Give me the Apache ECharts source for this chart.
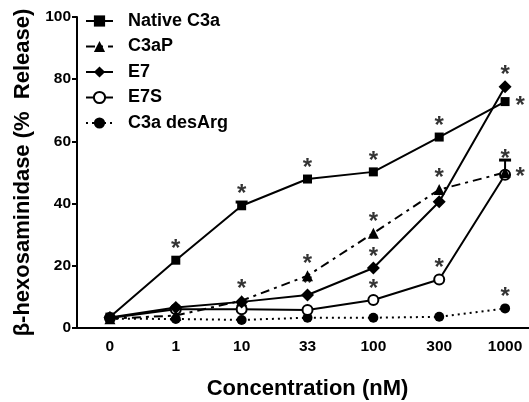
<!DOCTYPE html>
<html><head><meta charset="utf-8">
<script src="https://cdn.jsdelivr.net/npm/echarts@6/dist/echarts.min.js"></script>
<style>html,body{margin:0;padding:0;background:#fff}#c{width:529px;height:402px}</style>
</head><body><div id="c"></div>
<script>
var categories = ['0','1','10','33','100','300','1000'];
var nativeC3a = [3.5, 21.8, 39.3, 47.9, 50.2, 61.4, 72.8];
var c3aP      = [3.0, 4.0, 8.8, 16.8, 30.5, 44.5, 50.0];
var e7        = [3.4, 6.6, 8.4, 10.6, 19.3, 40.6, 77.6];
var e7s       = [3.2, 6.0, 6.0, 5.8, 9.0, 15.6, 49.3];
var desArg    = [3.0, 2.9, 2.6, 3.3, 3.3, 3.6, 6.3];
var e7sErr    = [0, 0, 0, 0, 0, 0, 4.7];
var nativeErr = [0, 0, 1.2, 0, 0, 0, 0];
var yTicks = [0, 20, 40, 60, 80, 100];
// significance marks: [series, category index, side]
var stars = [
  ['Native C3a',1,'top'],['Native C3a',2,'top'],['Native C3a',3,'top'],['Native C3a',4,'top'],['Native C3a',5,'top'],['Native C3a',6,'right'],
  ['C3aP',2,'top'],['C3aP',3,'top'],['C3aP',4,'top'],['C3aP',5,'top'],['C3aP',6,'right'],
  ['E7',3,'top'],['E7',4,'top'],['E7',6,'top'],
  ['E7S',4,'top'],['E7S',5,'top'],['E7S',6,'errtop'],
  ['C3a desArg',6,'top']
];
var seriesVals = {'Native C3a':nativeC3a,'C3aP':c3aP,'E7':e7,'E7S':e7s,'C3a desArg':desArg};

var chart = echarts.init(document.getElementById('c'));
var font = 'Liberation Sans, Arial, sans-serif';
function lineS(name, data, symbol, size, type, extra){
  var s = {name:name, type:'line', data:data, symbol:symbol, symbolSize:size,
    showAllSymbol:true,
    lineStyle:{color:'#000', width:2, type:type},
    itemStyle:{color:'#000', borderColor:'#000', borderWidth:0},
    emphasis:{disabled:true}, animation:false, z:3};
  if (extra) Object.assign(s.itemStyle, extra);
  return s;
}
var starData = stars.map(function(s){
  var v = seriesVals[s[0]][s[1]];
  var off = [0,-11];
  if (s[2]==='right') off = [15,5];
  if (s[2]==='errtop') { v = v + e7sErr[s[1]]; off = [0,-1]; }
  return {value:[s[1], v], label:{offset:off}};
});
function errSeries(vals, errs){
  var d = [];
  errs.forEach(function(e,i){ if(e>0) d.push([i, vals[i], vals[i]+e]); });
  return {type:'custom', data:d, z:2, animation:false, silent:true,
    renderItem:function(params, api){
      var x = api.coord([api.value(0), api.value(1)]);
      var top = api.coord([api.value(0), api.value(2)]);
      return {type:'group', children:[
        {type:'line', shape:{x1:x[0],y1:x[1],x2:top[0],y2:top[1]}, style:{stroke:'#000',lineWidth:2}},
        {type:'line', shape:{x1:top[0]-6,y1:top[1],x2:top[0]+6,y2:top[1]}, style:{stroke:'#000',lineWidth:3}}
      ]};
    }};
}
chart.setOption({
  animation:false,
  grid:{left:77, right:-9, top:17, bottom:74, containLabel:false, outerBoundsMode:'none'},
  legend:{orient:'vertical', left:80, top:7, itemWidth:27, itemHeight:14, itemGap:7.5,
    textStyle:{fontFamily:font, fontWeight:'bold', fontSize:18, lineHeight:18, color:'#000', padding:[0,0,0,10]},
    data:['Native C3a','C3aP','E7','E7S','C3a desArg']},
  xAxis:{type:'category', data:categories, boundaryGap:true,
    axisLine:{lineStyle:{color:'#000', width:2}},
    axisTick:{alignWithLabel:true, length:5, lineStyle:{color:'#000', width:2}},
    axisLabel:{fontFamily:font, fontWeight:'bold', fontSize:15.5, color:'#000', margin:11},
    name:'Concentration (nM)', nameLocation:'middle', nameGap:50,
    nameTextStyle:{fontFamily:font, fontWeight:'bold', fontSize:22, color:'#000'}},
  yAxis:{type:'value', min:0, max:100, interval:20,
    splitLine:{show:false},
    axisLine:{show:true, lineStyle:{color:'#000', width:2}},
    axisTick:{show:true, length:5, lineStyle:{color:'#000', width:2}},
    axisLabel:{fontFamily:font, fontWeight:'bold', fontSize:15.5, color:'#000', margin:6},
    name:'β-hexosaminidase (%  Release)', nameLocation:'middle', nameGap:35, nameRotate:90,
    nameTextStyle:{fontFamily:font, fontWeight:'bold', fontSize:22, color:'#000'}},
  series:[
    lineS('C3a desArg', desArg, 'circle', 10, [2,4]),
    lineS('E7S', e7s, 'emptyCircle', 10, 'solid', {borderWidth:2.5}),
    lineS('E7', e7, 'diamond', 13, 'solid'),
    lineS('C3aP', c3aP, 'triangle', 11, [9,5,3,5]),
    lineS('Native C3a', nativeC3a, 'rect', 9, 'solid'),
    errSeries(e7s, e7sErr),
    errSeries(nativeC3a, nativeErr),
    {type:'scatter', data:starData, symbol:'circle', symbolSize:1, itemStyle:{color:'rgba(0,0,0,0)'}, z:5, silent:true, animation:false,
      label:{show:true, position:'inside', formatter:'*', fontFamily:font, fontWeight:'bold', fontSize:24, color:'#000'}}
  ]
});
</script></body></html>
